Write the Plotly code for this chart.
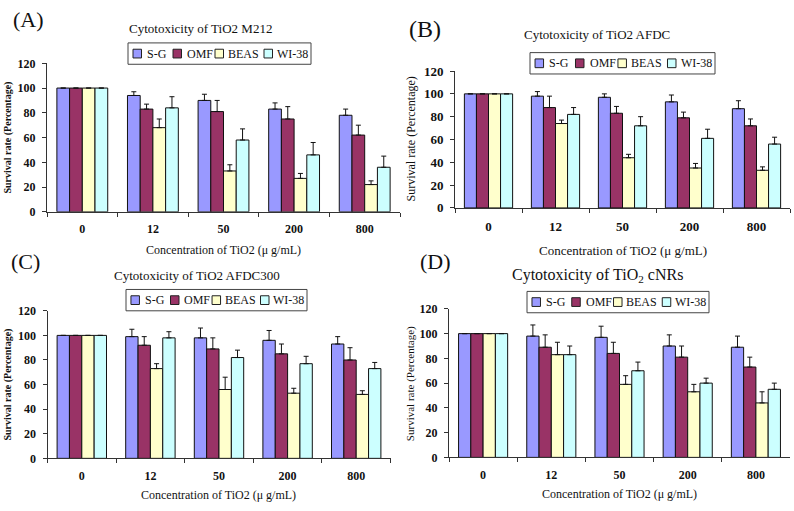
import plotly.graph_objects as go

W, H = 794, 511

categories = ["0", "12", "50", "200", "800"]
series_names = ["S-G", "OMF", "BEAS", "WI-38"]
series_colors = ["#9999FF", "#993366", "#FFFFCC", "#CCFFFF"]
y_ticks = [0, 20, 40, 60, 80, 100, 120]

# Panel A: TiO2 M212
a_sg = [100, 94, 90, 83, 78]
a_omf = [100, 83, 81, 75, 62]
a_beas = [100, 68, 33, 27, 22]
a_wi38 = [100, 84, 58, 46, 36]
a_sg_err = [0, 3, 5, 5, 5]
a_omf_err = [0, 4, 9, 10, 8]
a_beas_err = [0, 7, 5, 4, 3]
a_wi38_err = [0, 9, 9, 10, 9]

# Panel B: TiO2 AFDC
b_sg = [100, 98, 97, 93, 87]
b_omf = [100, 88, 83, 79, 72]
b_beas = [100, 74, 44, 35, 33]
b_wi38 = [100, 82, 72, 61, 56]
b_sg_err = [0, 4, 3, 6, 7]
b_omf_err = [0, 10, 6, 5, 6]
b_beas_err = [0, 3, 3, 4, 3]
b_wi38_err = [0, 6, 8, 8, 6]

# Panel C: TiO2 AFDC300
c_sg = [100, 99, 98, 96, 93]
c_omf = [100, 92, 89, 85, 80]
c_beas = [100, 73, 56, 53, 52]
c_wi38 = [100, 98, 82, 77, 73]
c_sg_err = [0, 6, 8, 8, 6]
c_omf_err = [0, 7, 9, 8, 10]
c_beas_err = [0, 4, 10, 4, 3]
c_wi38_err = [0, 5, 6, 6, 5]

# Panel D: TiO2 cNRs
d_sg = [100, 98, 97, 90, 89]
d_omf = [100, 89, 84, 81, 73]
d_beas = [100, 83, 59, 53, 44]
d_wi38 = [100, 83, 70, 60, 55]
d_sg_err = [0, 9, 9, 9, 9]
d_omf_err = [0, 10, 9, 9, 8]
d_beas_err = [0, 10, 7, 6, 9]
d_wi38_err = [0, 7, 7, 4, 5]

FONT = "Liberation Serif"


def px(x):
    return x / W


def py(y):
    return 1 - y / H


panels = [
    dict(key="", vals=[a_sg, a_omf, a_beas, a_wi38],
         errs=[a_sg_err, a_omf_err, a_beas_err, a_wi38_err],
         xdom=(47, 400), ydom=(211, 58),
         label="(A)", label_pos=(28, 13), label_size=22,
         title="Cytotoxicity of TiO2 M212", title_pos=(200, 22), title_size=13,
         ytitle_x=8, ytitle_size=10, ytitle_bold=True,
         xtitle_y=250, xtitle_size=12,
         legend=(128, 311, 37, 59), tick_size=12),
    dict(key="2", vals=[b_sg, b_omf, b_beas, b_wi38],
         errs=[b_sg_err, b_omf_err, b_beas_err, b_wi38_err],
         xdom=(455, 790), ydom=(207, 66),
         label="(B)", label_pos=(425, 23), label_size=24,
         title="Cytotoxicity of TiO2 AFDC", title_pos=(597, 28), title_size=13,
         ytitle_x=411, ytitle_size=12, ytitle_bold=False,
         xtitle_y=251, xtitle_size=13,
         legend=(530, 715, 47, 69), tick_size=13),
    dict(key="3", vals=[c_sg, c_omf, c_beas, c_wi38],
         errs=[c_sg_err, c_omf_err, c_beas_err, c_wi38_err],
         xdom=(47.5, 390.5), ydom=(465, 313),
         label="(C)", label_pos=(25, 262), label_size=22,
         title="Cytotoxicity of TiO2 AFDC300", title_pos=(197, 277), title_size=13,
         ytitle_x=8, ytitle_size=10, ytitle_bold=True,
         xtitle_y=503, xtitle_size=12,
         legend=(126, 307, 291, 313), tick_size=12),
    dict(key="4", vals=[d_sg, d_omf, d_beas, d_wi38],
         errs=[d_sg_err, d_omf_err, d_beas_err, d_wi38_err],
         xdom=(449, 790), ydom=(464, 311),
         label="(D)", label_pos=(435, 262), label_size=22,
         title="Cytotoxicity of TiO<sub>2</sub> cNRs", title_pos=(597, 277), title_size=16,
         ytitle_x=410, ytitle_size=11, ytitle_bold=False,
         xtitle_y=502, xtitle_size=12,
         legend=(527, 709, 293, 315), tick_size=12),
]

fig = go.Figure()
annotations = []
shapes = []
layout_axes = {}

sq_off = [5, 45, 87, 136]
tx_off = [17, 57, 98, 147]

for p in panels:
    k = p["key"]
    for name, color, v, e in zip(series_names, series_colors, p["vals"], p["errs"]):
        fig.add_trace(go.Bar(
            x=categories, y=v, name=name,
            marker=dict(color=color, line=dict(color="#111111", width=1)),
            error_y=dict(type="data", symmetric=False, array=e,
                         arrayminus=[0] * len(e), color="#111111",
                         thickness=1, width=2.5),
            xaxis="x" + k, yaxis="y" + k, showlegend=False,
        ))
    x0, x1 = p["xdom"]
    yb, yt = p["ydom"]
    layout_axes["xaxis" + k] = dict(
        domain=[px(x0), px(x1)], anchor="y" + k,
        showline=True, linecolor="#333333", linewidth=1,
        ticks="outside", tickson="boundaries", ticklen=4, tickcolor="#333333",
        tickfont=dict(family=FONT, size=p["tick_size"], color="#111111", weight="bold"),
        ticklabelstandoff=6, showgrid=False, zeroline=False, fixedrange=True,
    )
    layout_axes["yaxis" + k] = dict(
        domain=[py(yb), py(yt)], anchor="x" + k, range=[0, 120],
        tickvals=y_ticks, showline=True, linecolor="#333333", linewidth=1,
        ticks="outside", ticklen=4, tickcolor="#333333",
        tickfont=dict(family=FONT, size=p["tick_size"], color="#111111", weight="bold"),
        ticklabelstandoff=4, showgrid=False, zeroline=False, fixedrange=True,
    )
    annotations.append(dict(text=p["label"], x=px(p["label_pos"][0]), y=py(p["label_pos"][1]),
                            xref="paper", yref="paper", showarrow=False,
                            xanchor="center", yanchor="middle",
                            font=dict(family=FONT, size=p["label_size"], color="#111111")))
    annotations.append(dict(text=p["title"], x=px(p["title_pos"][0]), y=py(p["title_pos"][1]),
                            xref="paper", yref="paper", showarrow=False,
                            xanchor="center", yanchor="middle",
                            font=dict(family=FONT, size=p["title_size"], color="#111111")))
    annotations.append(dict(text="Survival rate (Percentage)", x=px(p["ytitle_x"]),
                            y=py((yb + yt) / 2), xref="paper", yref="paper",
                            showarrow=False, textangle=-90,
                            xanchor="center", yanchor="middle",
                            font=dict(family=FONT, size=p["ytitle_size"], color="#111111",
                                      weight="bold" if p["ytitle_bold"] else "normal")))
    annotations.append(dict(text="Concentration of TiO2 (\u03bc g/mL)", x=px((x0 + x1) / 2),
                            y=py(p["xtitle_y"]), xref="paper", yref="paper",
                            showarrow=False, xanchor="center", yanchor="middle",
                            font=dict(family=FONT, size=p["xtitle_size"], color="#111111")))
    # legend box drawn by hand (compact, like the reference)
    lx0, lx1, ly0, ly1 = p["legend"]
    sc = (lx1 - lx0) / 183.0
    shapes.append(dict(type="rect", xref="paper", yref="paper",
                       x0=px(lx0), x1=px(lx1), y0=py(ly1), y1=py(ly0),
                       line=dict(color="#444444", width=1), fillcolor="rgba(0,0,0,0)"))
    cy = (ly0 + ly1) / 2
    for i, (name, color) in enumerate(zip(series_names, series_colors)):
        sx = lx0 + sq_off[i] * sc
        shapes.append(dict(type="rect", xref="paper", yref="paper",
                           x0=px(sx), x1=px(sx + 8.5), y0=py(cy + 4.5), y1=py(cy - 4.5),
                           line=dict(color="#222222", width=1), fillcolor=color))
        annotations.append(dict(text=name, x=px(lx0 + tx_off[i] * sc), y=py(cy),
                                xref="paper", yref="paper", showarrow=False,
                                xanchor="left", yanchor="middle",
                                font=dict(family=FONT, size=12, color="#111111")))

fig.update_layout(
    width=W, height=H, margin=dict(l=0, r=0, t=0, b=0),
    paper_bgcolor="white", plot_bgcolor="white",
    barmode="group", bargap=0.28, bargroupgap=0,
    showlegend=False, annotations=annotations, shapes=shapes,
    **layout_axes,
)

fig.write_html("out.html", config={"displayModeBar": False},
               post_script="document.body.style.margin='0';document.body.style.padding='0';")
